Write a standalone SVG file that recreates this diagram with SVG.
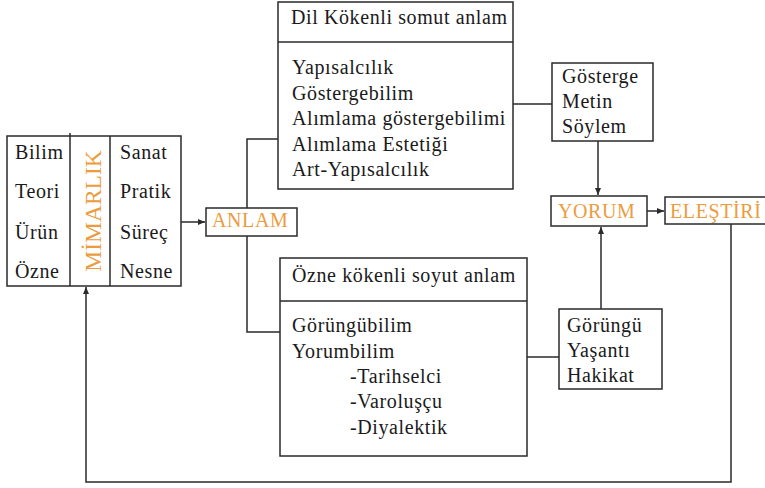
<svg xmlns="http://www.w3.org/2000/svg" width="765" height="488" viewBox="0 0 765 488">
<style>
  .box { fill: #ffffff; stroke: #2a2a2a; stroke-width: 1.5; }
  .ln { fill: none; stroke: #2a2a2a; stroke-width: 1.5; }
  text { font-family: 'Liberation Serif', 'Times New Roman', 'DejaVu Serif', serif; font-size: 20px; letter-spacing: 0.6px; }
  .t { fill: #1a1a1a; }
  .o { fill: #EC9C3E; }
</style>
<defs>
  <marker id="arr" markerUnits="userSpaceOnUse" markerWidth="8" markerHeight="8" viewBox="0 0 8 8" refX="7" refY="4" orient="auto">
    <path d="M0,1 L7,4 L0,7 Z" fill="#2a2a2a"/>
  </marker>
</defs>
<rect width="765" height="488" fill="#ffffff"/>

<g id="connectors">
  <path class="ln" d="M181,222 H205" marker-end="url(#arr)"/>
  <path class="ln" d="M278,139 H247 V208"/>
  <path class="ln" d="M247,236 V332 H280"/>
  <path class="ln" d="M513,104 H552"/>
  <path class="ln" d="M527,357 H559"/>
  <path class="ln" d="M598,141 V195" marker-end="url(#arr)"/>
  <path class="ln" d="M601,309 V227" marker-end="url(#arr)"/>
  <path class="ln" d="M647,211 H664" marker-end="url(#arr)"/>
  <path class="ln" d="M731,224 V482 H86 V287" marker-end="url(#arr)"/>
</g>

<g font-family="Liberation Serif, Times New Roman, serif">
<g id="mimarlik">
  <rect class="box" x="7" y="136" width="174" height="150"/>
  <line class="ln" x1="70" y1="133" x2="70" y2="286"/>
  <line class="ln" x1="110" y1="136" x2="110" y2="286"/>
  <text class="t" x="15" y="159">Bilim</text>
  <text class="t" x="15" y="198">Teori</text>
  <text class="t" x="15" y="239">Ürün</text>
  <text class="t" x="15" y="278">Özne</text>
  <text class="t" x="120" y="159">Sanat</text>
  <text class="t" x="120" y="198">Pratik</text>
  <text class="t" x="120" y="239">Süreç</text>
  <text class="t" x="120" y="278">Nesne</text>
  <text class="o" style="font-size:23.5px;letter-spacing:0" x="0" y="0" text-anchor="middle" transform="translate(101,211) rotate(-90)">MİMARLIK</text>
</g>

<g id="anlam">
  <rect class="box" x="206" y="208" width="91" height="28"/>
  <text class="o" x="212" y="227">ANLAM</text>
</g>

<g id="dil">
  <rect class="box" x="278" y="2" width="235" height="187"/>
  <line class="ln" x1="278" y1="42" x2="513" y2="42"/>
  <text class="t" x="291" y="24">Dil Kökenli somut anlam</text>
  <text class="t" x="292" y="74">Yapısalcılık</text>
  <text class="t" x="292" y="100">Göstergebilim</text>
  <text class="t" x="292" y="125">Alımlama göstergebilimi</text>
  <text class="t" x="292" y="151">Alımlama Estetiği</text>
  <text class="t" x="292" y="176">Art-Yapısalcılık</text>
</g>

<g id="ozne">
  <rect class="box" x="280" y="258" width="247" height="198"/>
  <line class="ln" x1="280" y1="301" x2="527" y2="301"/>
  <text class="t" x="292" y="282">Özne kökenli soyut anlam</text>
  <text class="t" x="292" y="332">Görüngübilim</text>
  <text class="t" x="292" y="358">Yorumbilim</text>
  <text class="t" x="350" y="383">-Tarihselci</text>
  <text class="t" x="350" y="408">-Varoluşçu</text>
  <text class="t" x="350" y="434">-Diyalektik</text>
</g>

<g id="gosterge">
  <rect class="box" x="552" y="63" width="101" height="78"/>
  <text class="t" x="562" y="83">Gösterge</text>
  <text class="t" x="562" y="108">Metin</text>
  <text class="t" x="562" y="133">Söylem</text>
</g>

<g id="gorungu">
  <rect class="box" x="559" y="309" width="103" height="80"/>
  <text class="t" x="567" y="332">Görüngü</text>
  <text class="t" x="567" y="357">Yaşantı</text>
  <text class="t" x="567" y="382">Hakikat</text>
</g>

<g id="yorum">
  <rect class="box" x="551" y="196" width="96" height="30"/>
  <text class="o" x="558" y="218">YORUM</text>
</g>

<g id="elestiri">
  <rect class="box" x="665" y="197" width="110" height="27"/>
  <text class="o" x="670" y="218">ELEŞTİRİ</text>
</g>
</g>
</svg>
